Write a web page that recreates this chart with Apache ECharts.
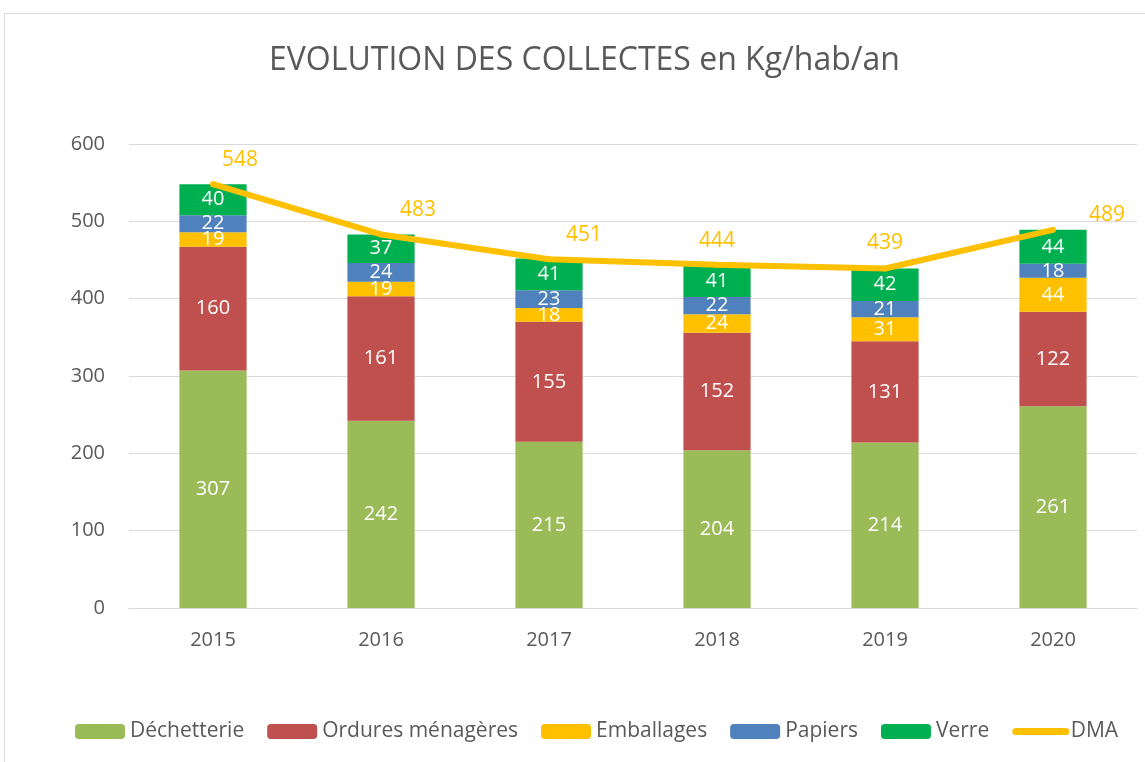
<!DOCTYPE html>
<html>
<head>
<meta charset="utf-8">
<script src="https://cdn.jsdelivr.net/npm/echarts@6/dist/echarts.min.js"></script>
<style>
  body { margin: 0; background: #fff; }
  #chart { width: 1145px; height: 762px; }
</style>
</head>
<body>
<div id="chart"></div>
<script>
var annees = ['2015', '2016', '2017', '2018', '2019', '2020'];
var dechetterie = [307, 242, 215, 204, 214, 261];
var ordures = [160, 161, 155, 152, 131, 122];
var emballages = [19, 19, 18, 24, 31, 44];
var papiers = [22, 24, 23, 22, 21, 18];
var verre = [40, 37, 41, 41, 42, 44];
var dma = [548, 483, 451, 444, 439, 489];

// décalage des étiquettes DMA (placées à la main dans l'original)
var dmaLabelOffset = [[27, -6], [37, -6], [35, -6], [0, -5], [0, -7], [54, 4]];

var police = '"Open Sans", "Noto Sans", sans-serif';

function barre(nom, couleur, valeurs) {
  return {
    name: nom,
    type: 'bar',
    stack: 'total',
    barWidth: '40%',
    itemStyle: { color: couleur },
    label: {
      show: true,
      position: 'inside',
      color: '#fff',
      fontSize: 20,
      fontFamily: police
    },
    data: valeurs
  };
}

var chart = echarts.init(document.getElementById('chart'));
chart.setOption({
  animation: false,
  title: {
    text: 'EVOLUTION DES COLLECTES en Kg/hab/an',
    left: 264,
    top: 40,
    textStyle: { color: '#595959', fontSize: 32, fontWeight: 'normal', fontFamily: police }
  },
  graphic: [{
    type: 'rect',
    shape: { x: 4.5, y: 13.5, width: 1200, height: 800 },
    style: { fill: 'none', stroke: '#d9d9d9', lineWidth: 1 },
    silent: true
  }],
  legend: {
    bottom: 15,
    left: 70,
    itemWidth: 50,
    itemHeight: 15,
    itemGap: 23,
    textStyle: { color: '#595959', fontSize: 21, fontFamily: police },
    data: ['Déchetterie', 'Ordures ménagères', 'Emballages', 'Papiers', 'Verre',
      { name: 'DMA', itemStyle: { opacity: 0 }, lineStyle: { width: 7, cap: 'round' } }]
  },
  grid: { left: 129, right: 8, top: 144, bottom: 154 },
  xAxis: {
    type: 'category',
    data: annees,
    axisLine: { lineStyle: { color: '#d9d9d9' } },
    axisTick: { show: false },
    axisLabel: { color: '#595959', fontSize: 20, margin: 22, fontFamily: police }
  },
  yAxis: {
    type: 'value',
    min: 0,
    max: 600,
    interval: 100,
    axisLine: { show: false },
    axisTick: { show: false },
    splitLine: { lineStyle: { color: '#d9d9d9', width: 1 } },
    axisLabel: { color: '#595959', fontSize: 20, margin: 24, fontFamily: police }
  },
  series: [
    barre('Déchetterie', '#9BBB59', dechetterie),
    barre('Ordures ménagères', '#C0504D', ordures),
    barre('Emballages', '#FFC000', emballages),
    barre('Papiers', '#4F81BD', papiers),
    barre('Verre', '#00B050', verre),
    {
      name: 'DMA',
      type: 'line',
      symbol: 'circle',
      symbolSize: 6,
      itemStyle: { color: '#FFC000' },
      lineStyle: { color: '#FFC000', width: 6 },
      label: {
        show: true,
        position: 'top',
        color: '#FFC000',
        fontSize: 21,
        fontFamily: police
      },
      data: dma.map(function (v, i) {
        return { value: v, label: { offset: dmaLabelOffset[i] } };
      })
    }
  ]
});
</script>
</body>
</html>
